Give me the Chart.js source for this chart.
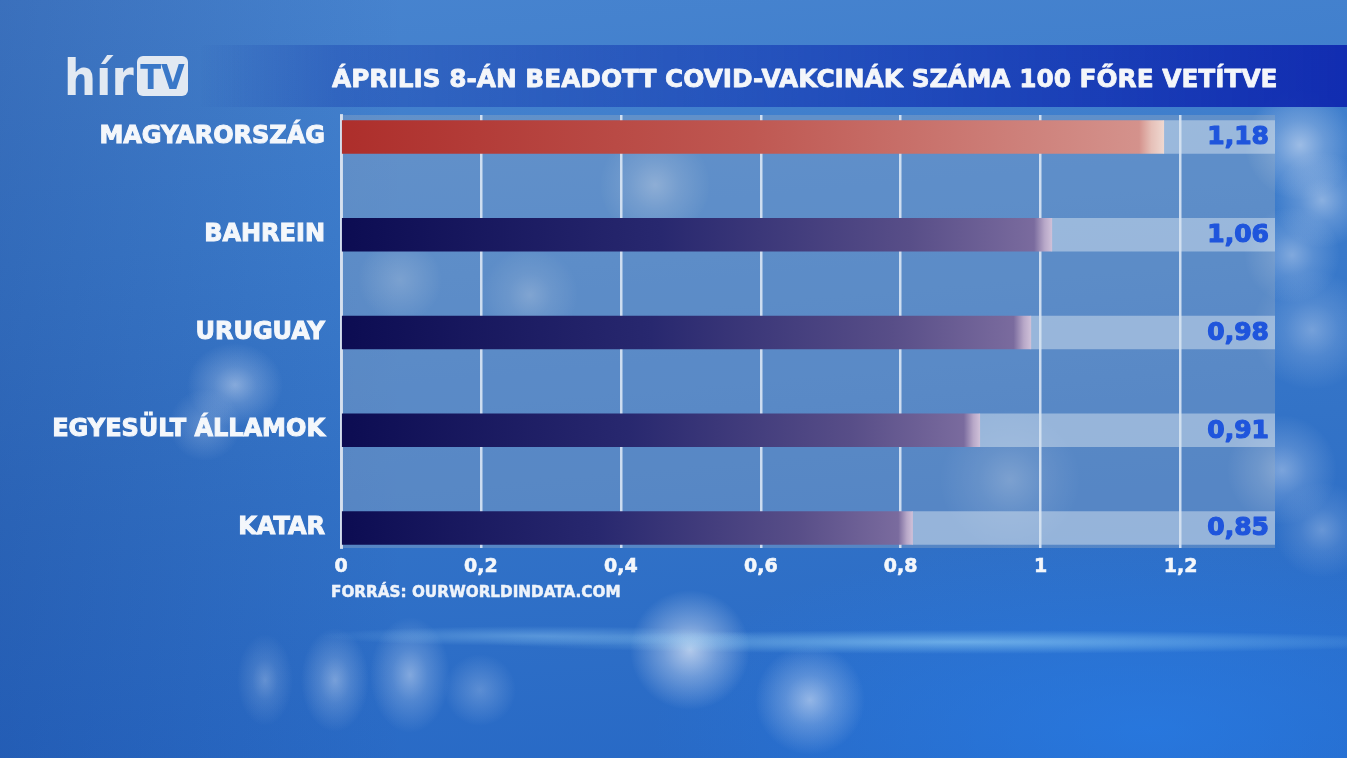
<!DOCTYPE html>
<html lang="hu">
<head>
<meta charset="utf-8">
<title>Április 8-án beadott COVID-vakcinák száma 100 főre vetítve</title>
<script src="https://cdn.jsdelivr.net/npm/chart.js@4.4.1/dist/chart.umd.min.js"></script>
<style>
html, body { margin: 0; padding: 0; width: 1347px; height: 758px; overflow: hidden; }
body {
	background:
		radial-gradient(ellipse 480px 12px at 960px 642px, rgba(170,230,255,0.5), rgba(170,230,255,0) 100%),
		radial-gradient(ellipse 220px 10px at 540px 636px, rgba(170,225,255,0.35), rgba(170,225,255,0) 100%),
		radial-gradient(circle 60px at 690px 650px, rgba(235,240,250,0.7), rgba(235,240,250,0.35) 45%, rgba(235,240,250,0) 100%),
		radial-gradient(circle 55px at 810px 700px, rgba(235,240,250,0.55), rgba(235,240,250,0.25) 45%, rgba(235,240,250,0) 100%),
		radial-gradient(ellipse 40px 58px at 410px 675px, rgba(235,240,250,0.45), rgba(235,240,250,0.2) 45%, rgba(235,240,250,0) 100%),
		radial-gradient(ellipse 34px 52px at 335px 680px, rgba(235,240,250,0.4), rgba(235,240,250,0.18) 45%, rgba(235,240,250,0) 100%),
		radial-gradient(ellipse 28px 46px at 265px 680px, rgba(235,240,250,0.3), rgba(235,240,250,0.12) 45%, rgba(235,240,250,0) 100%),
		radial-gradient(circle 36px at 480px 690px, rgba(235,240,250,0.25), rgba(235,240,250,0) 100%),
		radial-gradient(ellipse 48px 42px at 235px 385px, rgba(235,240,250,0.45), rgba(235,240,250,0.2) 45%, rgba(235,240,250,0) 100%),
		radial-gradient(circle 36px at 205px 425px, rgba(235,240,250,0.25), rgba(235,240,250,0) 100%),
		radial-gradient(circle 55px at 1300px 145px, rgba(235,240,250,0.55), rgba(235,240,250,0.25) 45%, rgba(235,240,250,0) 100%),
		radial-gradient(circle 48px at 1322px 200px, rgba(235,240,250,0.45), rgba(235,240,250,0.2) 45%, rgba(235,240,250,0) 100%),
		radial-gradient(circle 48px at 1292px 255px, rgba(235,240,250,0.4), rgba(235,240,250,0.18) 45%, rgba(235,240,250,0) 100%),
		radial-gradient(circle 60px at 1312px 330px, rgba(235,240,250,0.35), rgba(235,240,250,0.15) 45%, rgba(235,240,250,0) 100%),
		radial-gradient(circle 55px at 1282px 470px, rgba(235,240,250,0.4), rgba(235,240,250,0.18) 45%, rgba(235,240,250,0) 100%),
		radial-gradient(circle 48px at 1322px 530px, rgba(235,240,250,0.3), rgba(235,240,250,0.12) 45%, rgba(235,240,250,0) 100%),
		radial-gradient(circle 55px at 655px 185px, rgba(235,240,250,0.4), rgba(235,240,250,0.18) 45%, rgba(235,240,250,0) 100%),
		radial-gradient(circle 48px at 530px 295px, rgba(235,240,250,0.3), rgba(235,240,250,0.12) 45%, rgba(235,240,250,0) 100%),
		radial-gradient(circle 42px at 400px 280px, rgba(235,240,250,0.25), rgba(235,240,250,0) 100%),
		radial-gradient(circle 70px at 1010px 480px, rgba(235,240,250,0.3), rgba(235,240,250,0.12) 45%, rgba(235,240,250,0) 100%),
		radial-gradient(ellipse 500px 200px at 1150px 730px, rgba(40,130,240,0.55), rgba(40,130,240,0) 100%),
		linear-gradient(90deg, rgba(10,40,120,0.22), rgba(10,40,120,0) 30%),
		linear-gradient(175deg, #4884cf 0%, #3d7dcc 30%, #3373c7 60%, #2668c6 100%);
}
#wrap { position: relative; width: 1347px; height: 758px; }
canvas { display: block; }
</style>
</head>
<body>
<div id="wrap"><canvas id="vaxChart" width="1347" height="758"></canvas></div>
<script>
/* ── adatok ── */
const categories  = ['MAGYARORSZÁG', 'BAHREIN', 'URUGUAY', 'EGYESÜLT ÁLLAMOK', 'KATAR'];
const barValues   = [1.176, 1.016, 0.986, 0.913, 0.817];   // sávhossz
const valueLabels = ['1,18', '1,06', '0,98', '0,91', '0,85'];
const xTickValues = [0, 0.2, 0.4, 0.6, 0.8, 1, 1.2];
const xTickLabels = ['0', '0,2', '0,4', '0,6', '0,8', '1', '1,2'];
const trackEnd    = 1.335;

const titleText  = 'ÁPRILIS 8-ÁN BEADOTT COVID-VAKCINÁK SZÁMA 100 FŐRE VETÍTVE';
const sourceText = 'FORRÁS: OURWORLDINDATA.COM';

const FONT = '"DejaVu Sans", "Open Sans", sans-serif';

/* ── színek ── */
const redStops  = [[0, '#ad2e2b'], [0.5, '#bf5852'], [0.97, '#d4928c'], [0.985, '#e6c0b8'], [1, '#efd8d0']];
const blueStops = [[0, '#0c0c52'], [0.45, '#28286f'], [0.8, '#584e88'], [0.975, '#7a6b9e'], [0.99, '#b8a8c8'], [1, '#cfc0d8']];

function barFill(ctx) {
	const chart = ctx.chart;
	const xs = chart.scales.x;
	const stops = ctx.dataIndex === 0 ? redStops : blueStops;
	if (!xs) return stops[0][1];
	const x0 = xs.getPixelForValue(0);
	const x1 = xs.getPixelForValue(barValues[ctx.dataIndex]);
	if (!isFinite(x0) || !isFinite(x1) || x1 <= x0) return stops[0][1];
	const g = chart.ctx.createLinearGradient(x0, 0, x1, 0);
	stops.forEach(function(s) { g.addColorStop(s[0], s[1]); });
	return g;
}

function fitFont(c, text, size, width) {
	c.font = 'bold ' + size + 'px ' + FONT;
	const w = c.measureText(text).width;
	return size * width / w;
}

// vastagabb betű: kitöltés + azonos színű körvonal
function heavyText(c, text, x, y, color, stroke) {
	c.fillStyle = color;
	c.strokeStyle = color;
	c.lineWidth = stroke;
	c.lineJoin = 'round';
	c.strokeText(text, x, y);
	c.fillText(text, x, y);
}

/* ── háttér, cím, logó, értékcímkék ── */
const tvDecor = {
	id: 'tvDecor',
	beforeDraw(chart) {
		const c = chart.ctx;
		const a = chart.chartArea;
		c.save();

		// címsáv
		const band = c.createLinearGradient(200, 0, 1347, 0);
		band.addColorStop(0,    'rgba(25,60,170,0)');
		band.addColorStop(0.12, 'rgba(25,65,175,0.4)');
		band.addColorStop(0.6,  'rgba(20,55,180,0.72)');
		band.addColorStop(1,    'rgba(15,40,175,0.95)');
		c.fillStyle = band;
		c.fillRect(200, 45, 1147, 62);

		// cím
		const ts = fitFont(c, titleText, 26, 946);
		c.font = 'bold ' + ts + 'px ' + FONT;
		c.textBaseline = 'alphabetic';
		c.textAlign = 'left';
		heavyText(c, titleText, 332, 87, '#f4f6fa', 0.8);

		// logó
		c.font = 'bold 50px "DejaVu Sans Condensed", ' + FONT;
		c.fillStyle = '#e2e9f2';
		c.fillText('hír', 64, 95);
		c.beginPath();
		c.roundRect(137, 56, 51, 40, 6);
		c.fill();
		c.font = 'bold 34px "DejaVu Sans Condensed", ' + FONT;
		c.fillStyle = '#3a78c8';
		c.textAlign = 'center';
		c.fillText('TV', 162.5, 89);

		// rács háttérpanel
		c.fillStyle = 'rgba(165,180,195,0.33)';
		c.fillRect(a.left, a.top, a.right - a.left, a.bottom - a.top);

		// forrás
		const fs = fitFont(c, sourceText, 15, 290);
		c.font = 'bold ' + fs + 'px ' + FONT;
		c.textAlign = 'left';
		heavyText(c, sourceText, 331, 597, '#eef3fa', 0.5);
		c.restore();
	},
	afterDatasetsDraw(chart) {
		const c = chart.ctx;
		const xs = chart.scales.x;
		const ys = chart.scales.y;
		c.save();
		c.font = 'bold 25px ' + FONT;
		c.textAlign = 'right';
		c.textBaseline = 'middle';
		valueLabels.forEach(function(lbl, i) {
			heavyText(c, lbl, xs.right - 6, ys.getPixelForValue(i) + 1, '#1f55dc', 1.2);
		});
		c.restore();
	}
};

new Chart(document.getElementById('vaxChart'), {
	type: 'bar',
	data: {
		datasets: [
			{
				label: 'Beadott vakcina / 100 fő',
				data: categories.map(function(c, i) { return { x: barValues[i], y: i }; }),
				backgroundColor: barFill,
				borderWidth: 0,
				barThickness: 33,
				grouped: false,
				order: 1
			},
			{
				label: 'sáv',
				data: categories.map(function(c, i) { return { x: [barValues[i], trackEnd], y: i }; }),
				backgroundColor: 'rgba(214,228,240,0.5)',
				borderWidth: 0,
				barThickness: 33,
				grouped: false,
				order: 2
			}
		]
	},
	options: {
		indexAxis: 'y',
		responsive: false,
		animation: false,
		layout: { padding: { top: 115, right: 72, bottom: 170, left: 0 } },
		plugins: { legend: { display: false }, tooltip: { enabled: false } },
		scales: {
			x: {
				type: 'linear',
				min: 0,
				max: trackEnd,
				afterBuildTicks: function(s) { s.ticks = xTickValues.map(function(v) { return { value: v }; }); },
				afterFit: function(s) { s.height = 40; },
				grid: { color: 'rgba(235,242,250,0.8)', lineWidth: 2.5, drawTicks: false },
				border: { display: false },
				ticks: {
					color: '#f4f7fb',
					textStrokeColor: '#f4f7fb',
					textStrokeWidth: 0.6,
					font: { family: FONT, size: 19, weight: 'bold' },
					padding: 8,
					callback: function(v, i) { return xTickLabels[i]; }
				}
			},
			y: {
				type: 'linear',
				reverse: true,
				offset: false,
				min: -0.225,
				max: 4.205,
				afterBuildTicks: function(s) { s.ticks = categories.map(function(c, i) { return { value: i }; }); },
				afterFit: function(s) { s.width = 341; },
				grid: { display: false, drawTicks: false, offset: false },
				border: { display: true, color: 'rgba(215,225,238,0.85)', width: 3 },
				ticks: {
					color: '#f4f7fb',
					textStrokeColor: '#f4f7fb',
					textStrokeWidth: 1,
					font: { family: FONT, size: 24, weight: 'bold' },
					padding: 16,
					callback: function(v) { return categories[v]; }
				}
			}
		}
	},
	plugins: [tvDecor]
});
</script>
</body>
</html>
